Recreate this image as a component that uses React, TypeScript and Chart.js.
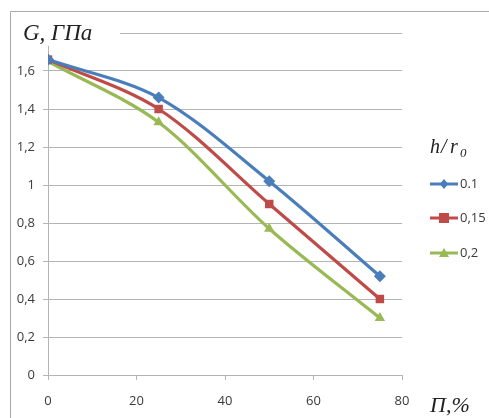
import React, { useEffect, useRef } from "react";
import { Chart, registerables } from "chart.js";

Chart.register(...registerables);

// Porosity, %
const porosity = [0, 25, 50, 75];
// Shear modulus G, GPa, for each h/r0 ratio
const g01 = [1.66, 1.46, 1.02, 0.52];
const g015 = [1.66, 1.4, 0.9, 0.4];
const g02 = [1.65, 1.33, 0.77, 0.3];

const seriesLabels = ["0.1", "0,15", "0,2"];
const seriesColors = ["#4a7ebb", "#be4b48", "#98b954"];
const seriesMarkers = ["rectRot", "rect", "triangle"];
const seriesRadius = [6, 6, 6];

const xTicks = [0, 20, 40, 60, 80];
const yMax = 1.8;

const W = 489;
const H = 418;
const GRID = "#b4b4b4";
const TEXT = "#3a3a3a";
const SERIF = "'Liberation Serif', 'DejaVu Serif', serif";
const SANS = "'Open Sans', 'Noto Sans', sans-serif";

function fmt(v: number): string {
  const r = Math.round(v * 10) / 10;
  if (Math.abs(r - yMax) < 1e-6) return "";
  return Number.isInteger(r) ? String(r) : r.toFixed(1).replace(".", ",");
}

function drawMarker(ctx: CanvasRenderingContext2D, style: string, x: number, y: number, r: number, color: string) {
  ctx.save();
  ctx.fillStyle = color;
  ctx.beginPath();
  if (style === "rect") {
    ctx.rect(x - r, y - r, 2 * r, 2 * r);
  } else if (style === "rectRot") {
    ctx.moveTo(x, y - r);
    ctx.lineTo(x + r * 0.85, y);
    ctx.lineTo(x, y + r);
    ctx.lineTo(x - r * 0.85, y);
    ctx.closePath();
  } else {
    ctx.moveTo(x, y - r);
    ctx.lineTo(x + r, y + r * 0.8);
    ctx.lineTo(x - r, y + r * 0.8);
    ctx.closePath();
  }
  ctx.fill();
  ctx.restore();
}

const decorPlugin = {
  id: "decor",
  beforeDraw(chart: any) {
    const ctx = chart.ctx as CanvasRenderingContext2D;
    ctx.save();
    ctx.fillStyle = "#ffffff";
    ctx.fillRect(0, 0, chart.width, chart.height);
    ctx.restore();
  },
  afterDraw(chart: any) {
    const ctx = chart.ctx as CanvasRenderingContext2D;
    ctx.save();

    // outer frame
    ctx.strokeStyle = "#a9a9b4";
    ctx.lineWidth = 1;
    ctx.beginPath();
    ctx.moveTo(10.5, H);
    ctx.lineTo(10.5, 11.5);
    ctx.lineTo(W, 11.5);
    ctx.stroke();

    // axis title box over the top of the plot
    ctx.fillStyle = "#ffffff";
    ctx.fillRect(12, 14, 108, 32);
    ctx.fillStyle = "#222";
    ctx.font = `italic 23px ${SERIF}`;
    ctx.textBaseline = "alphabetic";
    ctx.textAlign = "left";
    ctx.fillText("G, ГПа", 23, 40);

    // x axis title
    ctx.font = `italic 22px ${SERIF}`;
    ctx.fillText("П,%", 430, 412);

    // legend title h/r0
    const lx = 430;
    ctx.font = `italic 20px ${SERIF}`;
    ctx.fillText("h", lx, 153);
    ctx.fillText("/", lx + 11, 153);
    ctx.fillText("r", lx + 20, 153);
    ctx.font = `italic 13px ${SERIF}`;
    ctx.fillText("0", lx + 30, 157);

    const rows = [184, 218, 253];
    ctx.font = `13px ${SANS}`;
    ctx.textBaseline = "middle";
    rows.forEach((y, i) => {
      ctx.strokeStyle = seriesColors[i];
      ctx.lineWidth = 3;
      ctx.beginPath();
      ctx.moveTo(lx, y);
      ctx.lineTo(lx + 28, y);
      ctx.stroke();
      drawMarker(ctx, seriesMarkers[i], lx + 14, y, seriesRadius[i] - 1, seriesColors[i]);
      ctx.fillStyle = TEXT;
      ctx.fillText(seriesLabels[i], lx + 30, y);
    });
    ctx.restore();
  },
};

export default function App() {
  const ref = useRef<HTMLCanvasElement | null>(null);

  useEffect(() => {
    if (!ref.current) return;
    const series = [g01, g015, g02];
    const chart = new Chart(ref.current, {
      type: "line",
      data: {
        datasets: series.map((vals, i) => ({
          label: seriesLabels[i],
          data: porosity.map((x, j) => ({ x, y: vals[j] })),
          borderColor: seriesColors[i],
          backgroundColor: seriesColors[i],
          borderWidth: 3.2,
          pointStyle: seriesMarkers[i] as any,
          pointRadius: seriesRadius[i],
          pointBorderWidth: 0,
          tension: 0.32,
          fill: false,
        })),
      },
      options: {
        responsive: false,
        animation: false,
        layout: { padding: { left: 0, right: 87, top: 33, bottom: 0 } },
        plugins: { legend: { display: false }, tooltip: { enabled: false } },
        scales: {
          x: {
            type: "linear",
            min: 0,
            max: 80,
            afterBuildTicks: (s: any) => {
              s.ticks = xTicks.map((v) => ({ value: v }));
            },
            afterFit: (s: any) => {
              s.height = H - 375;
            },
            grid: { drawOnChartArea: false, drawTicks: true, tickLength: 5, tickColor: GRID },
            border: { color: GRID, width: 1 },
            ticks: {
              color: TEXT,
              font: { family: SANS, size: 13 },
              padding: 13,
              maxRotation: 0,
            },
          },
          y: {
            min: 0,
            max: yMax,
            afterFit: (s: any) => {
              s.width = 48;
            },
            grid: { color: GRID, lineWidth: 1, tickLength: 5, tickColor: GRID },
            border: { color: GRID, width: 1 },
            ticks: {
              stepSize: 0.2,
              color: TEXT,
              font: { family: SANS, size: 13 },
              padding: 8,
              callback: (v: any) => fmt(Number(v)),
            },
          },
        },
      },
      plugins: [decorPlugin],
    });
    return () => chart.destroy();
  }, []);

  return (
    <div style={{ position: "fixed", left: 0, top: 0, width: W, height: H, background: "#fff" }}>
      <canvas ref={ref} width={W} height={H} style={{ display: "block", width: W, height: H }} />
    </div>
  );
}
